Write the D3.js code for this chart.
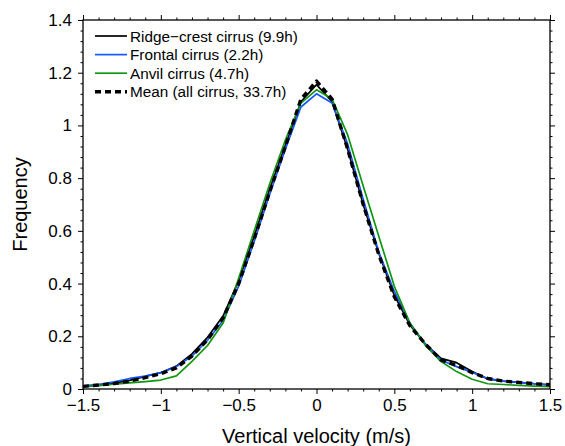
<!DOCTYPE html>
<html>
<head>
<meta charset="utf-8">
<script src="https://cdn.jsdelivr.net/npm/d3@7"></script>
<style>
  html, body { margin: 0; padding: 0; background: #fff; }
  svg { display: block; }
  text { font-family: "Liberation Sans", Arial, Helvetica, sans-serif; fill: #000; }
</style>
</head>
<body>
<svg id="chart" width="565" height="446"></svg>
<script>
// ---- data ----
const velocity = [-1.5,-1.4,-1.3,-1.2,-1.1,-1.0,-0.9,-0.8,-0.7,-0.6,-0.5,-0.4,-0.3,-0.2,-0.1,0,
                  0.1,0.2,0.3,0.4,0.5,0.6,0.7,0.8,0.9,1.0,1.1,1.2,1.3,1.4,1.5];

const ridgeCrest = [0.010,0.016,0.022,0.033,0.048,0.062,0.087,0.133,0.196,0.277,0.410,0.580,0.760,0.925,1.090,1.155,
                    1.090,0.910,0.700,0.515,0.355,0.243,0.170,0.116,0.100,0.066,0.038,0.030,0.025,0.020,0.016];
const frontal    = [0.012,0.017,0.027,0.040,0.049,0.062,0.085,0.125,0.185,0.260,0.390,0.560,0.740,0.910,1.070,1.120,
                    1.085,0.930,0.720,0.520,0.370,0.250,0.170,0.110,0.085,0.063,0.040,0.030,0.025,0.020,0.016];
const anvil      = [0.009,0.013,0.018,0.023,0.028,0.034,0.050,0.105,0.165,0.250,0.420,0.600,0.780,0.945,1.085,1.135,
                    1.100,0.965,0.770,0.580,0.390,0.250,0.165,0.104,0.066,0.037,0.020,0.017,0.014,0.011,0.009];
const meanAll    = [0.010,0.015,0.021,0.030,0.043,0.058,0.080,0.125,0.187,0.270,0.400,0.570,0.750,0.920,1.100,1.168,
                    1.100,0.910,0.700,0.510,0.350,0.240,0.170,0.110,0.089,0.062,0.040,0.030,0.025,0.020,0.016];

const seriesNames  = ["Ridge\u2212crest cirrus (9.9h)", "Frontal cirrus (2.2h)", "Anvil cirrus (4.7h)", "Mean (all cirrus, 33.7h)"];
const seriesValues = [ridgeCrest, frontal, anvil, meanAll];

const xMajorTicks = [-1.5,-1,-0.5,0,0.5,1,1.5];
const yMajorTicks = [0,0.2,0.4,0.6,0.8,1,1.2,1.4];
const xTitle = "Vertical velocity (m/s)";
const yTitle = "Frequency";

// ---- styles ----
const styles = [
  {color: "#000000", width: 1.7, dash: null},
  {color: "#1458ff", width: 1.7, dash: null},
  {color: "#129612", width: 1.7, dash: null},
  {color: "#000000", width: 3.4, dash: "6,4"}
];

// ---- layout ----
const svg = d3.select("#chart");
const pLeft = 83, pRight = 550, pTop = 20, pBottom = 389;

const x = d3.scaleLinear().domain([-1.5, 1.5]).range([pLeft, pRight]);
const y = d3.scaleLinear().domain([0, 1.4]).range([pBottom, pTop]);

const fmt = v => (v < 0 ? "\u2212" : "") + d3.format("~g")(Math.abs(v));

const xMinor = d3.range(-15, 16).map(d => d / 10).filter(d => !xMajorTicks.some(m => Math.abs(m - d) < 1e-9));
const yMinor = d3.range(0, 36).map(d => d * 0.04).filter(d => d <= 1.4001 && !yMajorTicks.some(m => Math.abs(m - d) < 1e-9));

function styleAxis(g, fontSize) {
  g.select(".domain").remove();
  g.selectAll(".tick line").attr("stroke", "#000").attr("stroke-width", 1);
  g.selectAll(".tick text").attr("font-size", fontSize).attr("fill", "#000")
    .attr("font-family", "Liberation Sans, Arial, sans-serif");
}

// bottom axis
svg.append("g").attr("transform", `translate(0,${pBottom})`)
  .call(d3.axisBottom(x).tickValues(xMajorTicks).tickFormat(fmt).tickSizeInner(5).tickSizeOuter(0).tickPadding(5))
  .call(g => styleAxis(g, "17px"));
svg.append("g").attr("transform", `translate(0,${pBottom})`)
  .call(d3.axisBottom(x).tickValues(xMinor).tickFormat("").tickSizeInner(2.5).tickSizeOuter(0))
  .call(g => styleAxis(g, "0px"));
// top axis
svg.append("g").attr("transform", `translate(0,${pTop})`)
  .call(d3.axisTop(x).tickValues(xMajorTicks).tickFormat("").tickSizeInner(5).tickSizeOuter(0))
  .call(g => styleAxis(g, "0px"));
svg.append("g").attr("transform", `translate(0,${pTop})`)
  .call(d3.axisTop(x).tickValues(xMinor).tickFormat("").tickSizeInner(2.5).tickSizeOuter(0))
  .call(g => styleAxis(g, "0px"));
// left axis
svg.append("g").attr("transform", `translate(${pLeft},0)`)
  .call(d3.axisLeft(y).tickValues(yMajorTicks).tickFormat(fmt).tickSizeInner(5).tickSizeOuter(0).tickPadding(6))
  .call(g => styleAxis(g, "17px"));
svg.append("g").attr("transform", `translate(${pLeft},0)`)
  .call(d3.axisLeft(y).tickValues(yMinor).tickFormat("").tickSizeInner(2.5).tickSizeOuter(0))
  .call(g => styleAxis(g, "0px"));
// right axis
svg.append("g").attr("transform", `translate(${pRight},0)`)
  .call(d3.axisRight(y).tickValues(yMajorTicks).tickFormat("").tickSizeInner(5).tickSizeOuter(0))
  .call(g => styleAxis(g, "0px"));
svg.append("g").attr("transform", `translate(${pRight},0)`)
  .call(d3.axisRight(y).tickValues(yMinor).tickFormat("").tickSizeInner(2.5).tickSizeOuter(0))
  .call(g => styleAxis(g, "0px"));

// clip
svg.append("clipPath").attr("id", "plotclip")
  .append("rect").attr("x", pLeft).attr("y", pTop).attr("width", pRight - pLeft).attr("height", pBottom - pTop);

// lines
const line = d3.line().x((d, i) => x(velocity[i])).y(d => y(d));
const plot = svg.append("g").attr("clip-path", "url(#plotclip)");
seriesValues.forEach((vals, k) => {
  const p = plot.append("path").datum(vals)
    .attr("d", line)
    .attr("fill", "none")
    .attr("stroke", styles[k].color)
    .attr("stroke-width", styles[k].width)
    .attr("stroke-linejoin", "round");
  if (styles[k].dash) p.attr("stroke-dasharray", styles[k].dash);
});

// frame
svg.append("rect").attr("x", pLeft).attr("y", pTop).attr("width", pRight - pLeft).attr("height", pBottom - pTop)
  .attr("fill", "none").attr("stroke", "#000").attr("stroke-width", 1.3);

// legend
const legend = svg.append("g");
seriesNames.forEach((name, k) => {
  const ly = 36 + k * 18.6;
  const l = legend.append("line").attr("x1", 95).attr("x2", 127).attr("y1", ly).attr("y2", ly)
    .attr("stroke", styles[k].color).attr("stroke-width", styles[k].width);
  if (styles[k].dash) l.attr("stroke-dasharray", styles[k].dash);
  legend.append("text").attr("x", 130).attr("y", ly).attr("dy", "0.36em")
    .attr("font-size", "15.3px").text(name);
});

// axis titles
svg.append("text").attr("x", (pLeft + pRight) / 2).attr("y", 443)
  .attr("text-anchor", "middle").attr("font-size", "20px").text(xTitle);
svg.append("text").attr("transform", `translate(27,${(pTop + pBottom) / 2}) rotate(-90)`)
  .attr("text-anchor", "middle").attr("font-size", "20px").text(yTitle);
</script>
</body>
</html>
